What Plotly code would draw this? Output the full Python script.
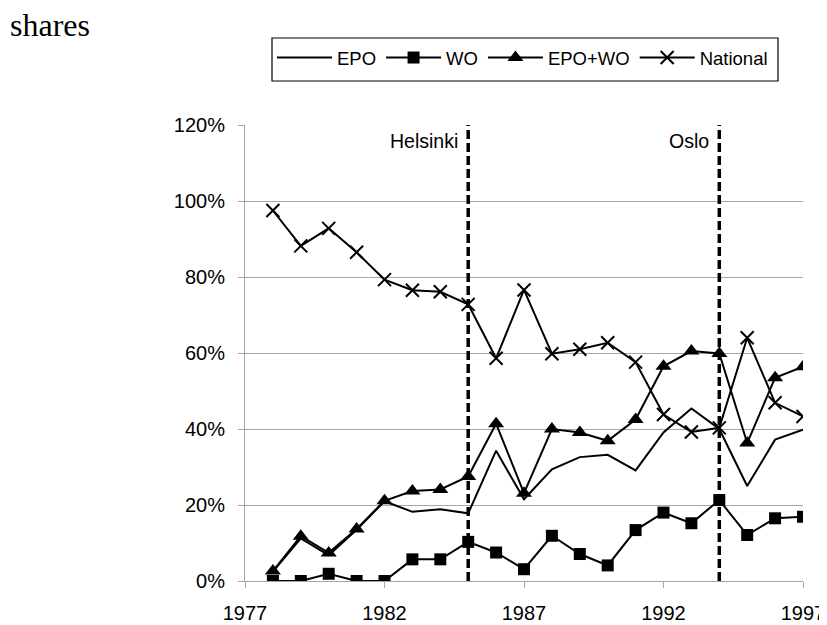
import plotly.graph_objects as go

years = list(range(1978, 1998))
epo = [2.5, 11.2, 6.8, 13.5, 21.0, 18.2, 18.9, 17.8, 34.3, 21.5, 29.4, 32.6, 33.2, 29.1, 39.1, 45.4, 40.0, 25.0, 37.2, 39.8]
wo = [0, 0, 1.9, 0, 0, 5.7, 5.7, 10.3, 7.5, 3.1, 11.9, 7.1, 4.1, 13.4, 18.0, 15.2, 21.3, 12.1, 16.5, 16.9]
epo_wo = [2.6, 11.8, 7.4, 13.7, 21.1, 23.7, 24.1, 27.5, 41.4, 23.1, 40.0, 39.1, 36.9, 42.5, 56.5, 60.5, 59.9, 36.3, 53.5, 56.4]
national = [97.5, 88.2, 92.8, 86.5, 79.3, 76.5, 76.1, 72.8, 58.6, 76.6, 59.8, 61.0, 62.7, 57.6, 43.8, 39.2, 40.3, 64.0, 46.9, 43.3]

event_years = [1985, 1994]
event_labels = ["Helsinki", "Oslo"]
x_ticks = [1977, 1982, 1987, 1992, 1997]
y_ticks = [0, 0.2, 0.4, 0.6, 0.8, 1.0, 1.2]

FONT = "Liberation Sans, Arial, sans-serif"
GRID = "#a6a6a6"
OFF = 8  # page body margin in the browser
W, H = 827 - OFF, 625 - OFF
ML, MR, MT, MB = 245 - OFF, 24, 125 - OFF, 44
PW, PH = W - ML - MR, H - MT - MB
PLOT_BOTTOM_PAGE = OFF + H - MB

def pct(v):
    return [a / 100 for a in v]

fig = go.Figure()
fig.add_trace(go.Scatter(x=years, y=pct(epo), name="EPO", mode="lines",
                         line=dict(color="black", width=2)))
fig.add_trace(go.Scatter(x=years, y=pct(wo), name="WO", mode="lines+markers",
                         line=dict(color="black", width=2),
                         marker=dict(symbol="square", size=12, color="black")))
fig.add_trace(go.Scatter(x=years, y=pct(epo_wo), name="EPO+WO", mode="lines+markers",
                         line=dict(color="black", width=2),
                         marker=dict(symbol="triangle-up", size=14, color="black")))
fig.add_trace(go.Scatter(x=years, y=pct(national), name="National", mode="lines+markers",
                         line=dict(color="black", width=2),
                         marker=dict(symbol="x-thin-open", size=13, color="black",
                                     line=dict(color="black", width=2))))

shapes = []
annotations = []
for yr, lab in zip(event_years, event_labels):
    shapes.append(dict(type="line", xref="x", yref="y", x0=yr, x1=yr, y0=0, y1=1.2,
                       line=dict(color="black", width=3.5, dash="9px,4px"), layer="above"))
    annotations.append(dict(text=lab, xref="x", yref="paper", x=yr, y=1 - 16 / PH,
                            xanchor="right", yanchor="middle", xshift=-8, showarrow=False,
                            font=dict(family=FONT, size=19.5, color="black")))

# legend frame (page pixel coords converted to paper fractions)
shapes.append(dict(type="rect", xref="paper", yref="paper",
                   x0=(272 - 245) / PW, x1=(778 - 245) / PW,
                   y0=(PLOT_BOTTOM_PAGE - 81) / PH, y1=(PLOT_BOTTOM_PAGE - 38) / PH,
                   line=dict(color="black", width=1.2), fillcolor="rgba(0,0,0,0)"))

fig.update_layout(
    width=W, height=H,
    margin=dict(l=ML, r=MR, t=MT, b=MB, autoexpand=False),
    paper_bgcolor="white", plot_bgcolor="white",
    font=dict(family=FONT, size=20, color="black"),
    title=dict(text="shares", xref="container", yref="container",
               x=(10 - OFF) / W, xanchor="left", y=1 - 6 / H, yanchor="top",
               pad=dict(t=0, b=0, l=0, r=0),
               font=dict(family="Liberation Serif, Times New Roman, serif",
                         size=32, color="black")),
    showlegend=True,
    legend=dict(orientation="h", xref="container", yref="container",
                x=(272 - OFF) / W, y=1 - (58 - OFF) / H,
                xanchor="left", yanchor="middle",
                font=dict(family=FONT, size=18.5, color="black"),
                itemwidth=55, borderwidth=0, bgcolor="rgba(0,0,0,0)",
                traceorder="normal"),
    shapes=shapes,
    annotations=annotations,
)
fig.update_xaxes(range=[1977, 1997], tickvals=x_ticks, ticktext=[str(t) for t in x_ticks],
                 showgrid=False, showline=True, linecolor=GRID, linewidth=1,
                 ticks="outside", ticklen=6, tickcolor=GRID, zeroline=False,
                 tickfont=dict(family=FONT, size=20, color="black"),
                 ticklabelstandoff=8, automargin=False)
fig.update_yaxes(range=[0, 1.2], tickvals=y_ticks, tickformat=".0%",
                 showgrid=True, gridcolor=GRID, gridwidth=1,
                 showline=True, linecolor=GRID, linewidth=1,
                 ticks="outside", ticklen=6, tickcolor=GRID, zeroline=False,
                 tickfont=dict(family=FONT, size=20, color="black"),
                 ticklabelstandoff=9, automargin=False)

fig.write_html("out.html")
